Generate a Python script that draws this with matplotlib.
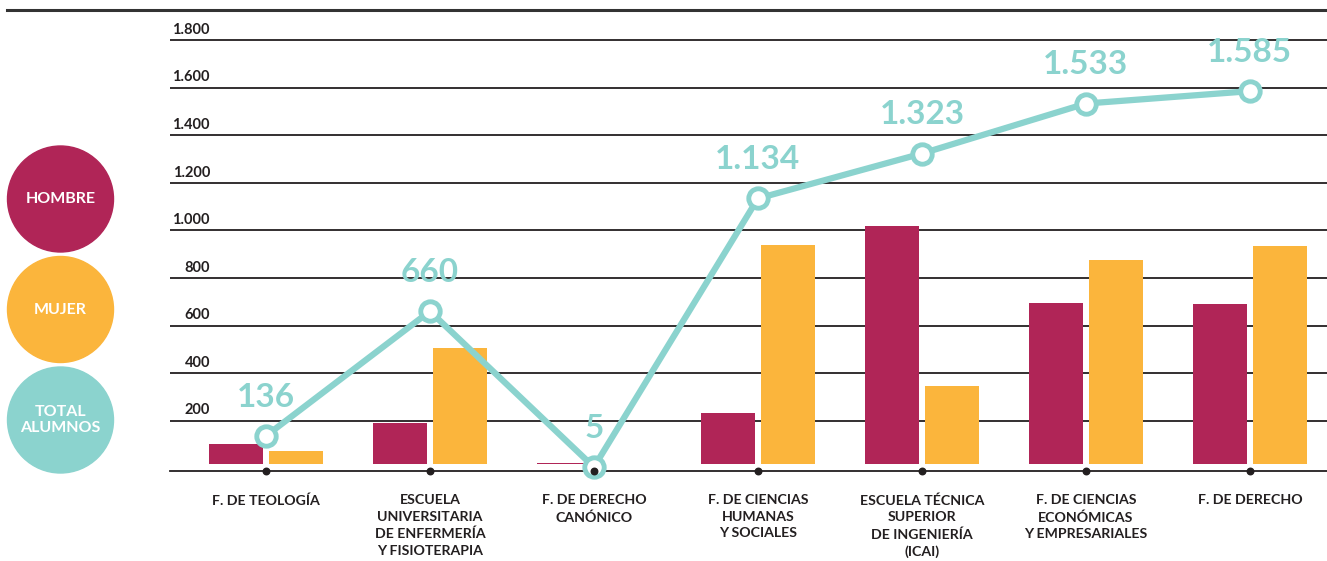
import numpy as np
import matplotlib
matplotlib.use("Agg")
import matplotlib.pyplot as plt
from matplotlib.patches import Circle
from matplotlib.lines import Line2D

plt.rcParams["font.family"] = ["Lato", "DejaVu Sans"]

# datos
categorias = [
    "F. DE TEOLOGÍA",
    "ESCUELA\nUNIVERSITARIA\nDE ENFERMERÍA\nY FISIOTERAPIA",
    "F. DE DERECHO\nCANÓNICO",
    "F. DE CIENCIAS\nHUMANAS\nY SOCIALES",
    "ESCUELA TÉCNICA\nSUPERIOR\nDE INGENIERÍA\n(ICAI)",
    "F. DE CIENCIAS\nECONÓMICAS\nY EMPRESARIALES",
    "F. DE DERECHO",
]
hombre = [83, 173, 5, 215, 998, 676, 670]
mujer = [53, 487, 0, 919, 325, 857, 915]
total = [136, 660, 5, 1134, 1323, 1533, 1585]
yticks = [200, 400, 600, 800, 1000, 1200, 1400, 1600, 1800]

c_hombre = "#B02557"
c_mujer = "#FBB53C"
c_total = "#8BD3CE"
c_texto = "#231F20"

fig = plt.figure(figsize=(13.27, 5.61), dpi=100)
ax = fig.add_axes([0.1281, 0.1610, 0.8719, 0.7698])

x = np.arange(len(categorias))
ancho = 0.33
base = 19  # las barras no tocan el eje

ax.bar(x - 0.185, hombre, ancho, bottom=base, color=c_hombre, zorder=2)
ax.bar(x + 0.185, mujer, ancho, bottom=base, color=c_mujer, zorder=2)

# linea del total
ax.plot(x, total, color=c_total, lw=4.5, zorder=3, solid_capstyle="round",
        marker="o", ms=14, mfc="white", mec=c_total, mew=3.5, clip_on=False)
for xi, v in zip(x, total):
    ax.annotate(f"{v:,}".replace(",", "."), (xi, v), xytext=(0, 21),
                textcoords="offset points", ha="center", va="baseline",
                fontsize=24, fontweight="bold", color=c_total, zorder=4)

ax.set_xlim(-0.585, 6.47)
ax.set_ylim(-10, 1805)

# rejilla
ax.set_yticks(yticks)
ax.yaxis.grid(True, color=c_texto, lw=1.3)
ax.set_axisbelow(True)
ax.tick_params(left=False, bottom=False, labelleft=False, labelbottom=False)
for s in ["top", "right", "left"]:
    ax.spines[s].set_visible(False)
ax.spines["bottom"].set_color(c_texto)
ax.spines["bottom"].set_linewidth(1.3)

for v in yticks:
    ax.annotate(f"{v:,}".replace(",", "."), (0, v), xycoords=ax.get_yaxis_transform(),
                xytext=(28.8, 4.5), textcoords="offset points", ha="right", va="baseline",
                fontsize=10.5, fontweight="bold", color=c_texto)

# puntos y etiquetas del eje x
ax.scatter(x, [-10] * len(x), s=22, color=c_texto, zorder=5, clip_on=False)
for xi, cat in zip(x, categorias):
    ax.annotate(cat, (xi, 0), xycoords=("data", "axes fraction"), xytext=(0, -17),
                textcoords="offset points", ha="center", va="top", fontsize=10.2,
                fontweight="bold", color=c_texto, linespacing=1.45)

# linea superior
fig.add_artist(Line2D([7 / 1327, 1], [1 - 10 / 561] * 2, color="#333333", lw=2.2))

# leyenda con circulos
leyenda = [("HOMBRE", c_hombre, 199), ("MUJER", c_mujer, 309.5), ("TOTAL\nALUMNOS", c_total, 420)]
for txt, col, cy in leyenda:
    centro = (0.605, (561 - cy) / 100)
    fig.add_artist(Circle(centro, 0.53, transform=fig.dpi_scale_trans, color=col))
    fig.text(centro[0], centro[1], txt, transform=fig.dpi_scale_trans, ha="center",
             va="center", color="white", fontsize=11.5, fontweight="bold", linespacing=1.1)

plt.savefig("out.png", dpi=100)
